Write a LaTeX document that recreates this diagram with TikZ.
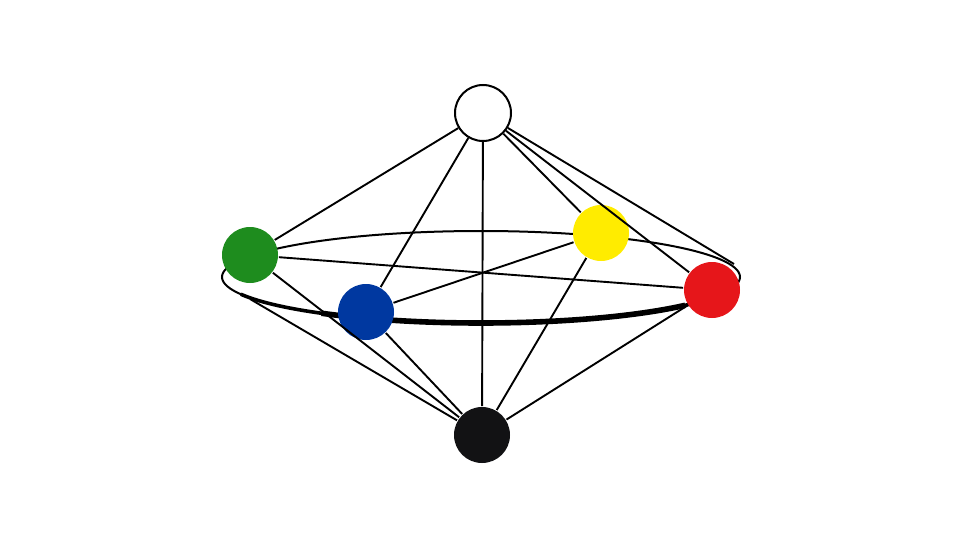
\documentclass[tikz,border=0pt]{standalone}
\begin{document}
\definecolor{ballgreen}{RGB}{30,140,30}
\definecolor{ballblue}{RGB}{0,56,160}
\definecolor{ballyellow}{RGB}{255,236,0}
\definecolor{ballred}{RGB}{230,22,26}
\definecolor{ballblack}{RGB}{18,18,20}
\begin{tikzpicture}[x=1pt,y=-1pt,line width=1.9pt,
            main node/.style={circle,minimum size=56pt,inner sep=0pt}]
        \useasboundingbox (0,0) rectangle (960,548);

        % Define ring
        \coordinate (ctr) at (481,277);
        \draw[line width=2pt] (ctr) ellipse [x radius=259, y radius=46];
        \draw[line width=3.6pt] (ctr) ++(158:259 and 46) arc[start angle=158, end angle=18, x radius=259, y radius=46];
        \draw[line width=5.6pt] (ctr) ++(128:259 and 46) arc[start angle=128, end angle=38, x radius=259, y radius=46];
        \coordinate (ltan) at (250,299);
        \coordinate (rtan) at (734,264);

        % Define vertices
        \node[main node,draw=black,line width=2pt,fill=white] (white) at (483,113) {};
        \node[main node,fill=ballgreen] (green) at (250,255) {};
        \node[main node,fill=ballblue] (blue) at (366,312) {};
        \node[main node,fill=ballyellow] (yellow) at (601,233) {};
        \node[main node,fill=ballred] (red) at (712,290) {};
        \node[main node,fill=ballblack] (black) at (482,435) {};

        % Draw edges
        \path[draw]
            (white) edge (green)
            (white) edge (blue)
            (white) edge (black)
            (white) edge (yellow)
            (white) edge (red)
            (white) edge (rtan)
            (black) edge (green)
            (black) edge (blue)
            (black) edge (ltan)
            (black) edge (yellow)
            (black) edge (red)
            (green) edge (red)
            (blue) edge (yellow);

        \end{tikzpicture}
\end{document}
